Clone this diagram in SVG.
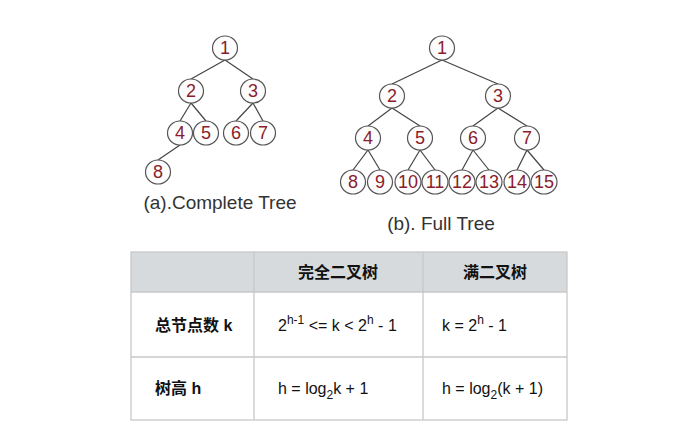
<svg xmlns="http://www.w3.org/2000/svg" width="698" height="427" viewBox="0 0 698 427">
<style>
.e{stroke:#444;stroke-width:1.2;fill:none}
.n ellipse{fill:#fdfdfd;stroke:#555;stroke-width:1.2}
.n text{font-family:"Liberation Sans",Arial,sans-serif;font-size:18px;fill:#8a1c2b;text-anchor:middle;dominant-baseline:central}
.cap{font-family:"Liberation Sans",Arial,sans-serif;font-size:19px;fill:#333;text-anchor:middle}
.t{font-family:"Liberation Sans","Noto Sans CJK SC",sans-serif;font-size:16px;fill:#111}
.b{font-weight:bold}
.grid{stroke:#c8c8c8;stroke-width:1.3;fill:none}
</style>
<rect width="698" height="427" fill="#fff"/>
<g id="connectors">
<line class="e" x1="225" y1="60" x2="191" y2="79"/>
<line class="e" x1="225" y1="60" x2="253" y2="79"/>
<line class="e" x1="191" y1="103" x2="180" y2="121"/>
<line class="e" x1="191" y1="103" x2="206" y2="121"/>
<line class="e" x1="253" y1="103" x2="236" y2="121"/>
<line class="e" x1="253" y1="103" x2="263" y2="121"/>
<line class="e" x1="180" y1="145" x2="158" y2="160"/>
<line class="e" x1="442" y1="60" x2="392" y2="84"/>
<line class="e" x1="442" y1="60" x2="498" y2="84"/>
<line class="e" x1="392" y1="108" x2="368" y2="126"/>
<line class="e" x1="392" y1="108" x2="420" y2="126"/>
<line class="e" x1="498" y1="108" x2="473" y2="126"/>
<line class="e" x1="498" y1="108" x2="527" y2="126"/>
<line class="e" x1="368" y1="150" x2="353" y2="170"/>
<line class="e" x1="368" y1="150" x2="380" y2="170"/>
<line class="e" x1="420" y1="150" x2="408" y2="170"/>
<line class="e" x1="420" y1="150" x2="435" y2="170"/>
<line class="e" x1="473" y1="150" x2="462" y2="170"/>
<line class="e" x1="473" y1="150" x2="489" y2="170"/>
<line class="e" x1="527" y1="150" x2="517" y2="170"/>
<line class="e" x1="527" y1="150" x2="544" y2="170"/>
</g>
<g id="treeA">
<g id="a1" class="n"><ellipse cx="225" cy="48" rx="12.5" ry="12"/><text x="225" y="48">1</text></g>
<g id="a2" class="n"><ellipse cx="191" cy="91" rx="12.5" ry="12"/><text x="191" y="91">2</text></g>
<g id="a3" class="n"><ellipse cx="253" cy="91" rx="12.5" ry="12"/><text x="253" y="91">3</text></g>
<g id="a4" class="n"><ellipse cx="180" cy="133" rx="12.5" ry="12"/><text x="180" y="133">4</text></g>
<g id="a5" class="n"><ellipse cx="206" cy="133" rx="12.5" ry="12"/><text x="206" y="133">5</text></g>
<g id="a6" class="n"><ellipse cx="236" cy="133" rx="12.5" ry="12"/><text x="236" y="133">6</text></g>
<g id="a7" class="n"><ellipse cx="263" cy="133" rx="12.5" ry="12"/><text x="263" y="133">7</text></g>
<g id="a8" class="n"><ellipse cx="158" cy="172" rx="12.5" ry="12"/><text x="158" y="172">8</text></g>
<text class="cap" x="220" y="209">(a).Complete Tree</text>
</g>
<g id="treeB">
<g id="b1" class="n"><ellipse cx="442" cy="48" rx="12.5" ry="12"/><text x="442" y="48">1</text></g>
<g id="b2" class="n"><ellipse cx="392" cy="96" rx="12.5" ry="12"/><text x="392" y="96">2</text></g>
<g id="b3" class="n"><ellipse cx="498" cy="96" rx="12.5" ry="12"/><text x="498" y="96">3</text></g>
<g id="b4" class="n"><ellipse cx="368" cy="138" rx="12.5" ry="12"/><text x="368" y="138">4</text></g>
<g id="b5" class="n"><ellipse cx="420" cy="138" rx="12.5" ry="12"/><text x="420" y="138">5</text></g>
<g id="b6" class="n"><ellipse cx="473" cy="138" rx="12.5" ry="12"/><text x="473" y="138">6</text></g>
<g id="b7" class="n"><ellipse cx="527" cy="138" rx="12.5" ry="12"/><text x="527" y="138">7</text></g>
<g id="b8" class="n"><ellipse cx="353" cy="182" rx="12.5" ry="12"/><text x="353" y="182">8</text></g>
<g id="b9" class="n"><ellipse cx="380" cy="182" rx="12.5" ry="12"/><text x="380" y="182">9</text></g>
<g id="b10" class="n"><ellipse cx="408" cy="182" rx="13" ry="12"/><text x="408" y="182">10</text></g>
<g id="b11" class="n"><ellipse cx="435" cy="182" rx="13" ry="12"/><text x="435" y="182">11</text></g>
<g id="b12" class="n"><ellipse cx="462" cy="182" rx="13" ry="12"/><text x="462" y="182">12</text></g>
<g id="b13" class="n"><ellipse cx="489" cy="182" rx="13" ry="12"/><text x="489" y="182">13</text></g>
<g id="b14" class="n"><ellipse cx="517" cy="182" rx="13" ry="12"/><text x="517" y="182">14</text></g>
<g id="b15" class="n"><ellipse cx="544" cy="182" rx="13" ry="12"/><text x="544" y="182">15</text></g>
<text class="cap" x="441" y="230">(b). Full Tree</text>
</g>
<g id="table">
<rect x="131" y="252" width="436" height="40" fill="#d6dadc"/>
<rect class="grid" x="131" y="252" width="436" height="168"/>
<line class="grid" x1="131" y1="292" x2="567" y2="292"/>
<line class="grid" x1="131" y1="357" x2="567" y2="357"/>
<line class="grid" x1="254" y1="252" x2="254" y2="420"/>
<line class="grid" x1="423" y1="252" x2="423" y2="420"/>
<text class="t b" x="338" y="278" text-anchor="middle">完全二叉树</text>
<text class="t b" x="495" y="278" text-anchor="middle">满二叉树</text>
<text class="t b" x="155" y="331">总节点数 k</text>
<text class="t b" x="155" y="394">树高 h</text>
<text class="t" x="278" y="331">2<tspan font-size="12" dy="-7">h-1</tspan><tspan dy="7"> &lt;= k &lt; 2</tspan><tspan font-size="12" dy="-7">h</tspan><tspan dy="7"> - 1</tspan></text>
<text class="t" x="442" y="331">k = 2<tspan font-size="12" dy="-7">h</tspan><tspan dy="7"> - 1</tspan></text>
<text class="t" x="278" y="394">h = log<tspan font-size="12" dy="5">2</tspan><tspan dy="-5">k + 1</tspan></text>
<text class="t" x="442" y="394">h = log<tspan font-size="12" dy="5">2</tspan><tspan dy="-5">(k + 1)</tspan></text>
</g>
</svg>
